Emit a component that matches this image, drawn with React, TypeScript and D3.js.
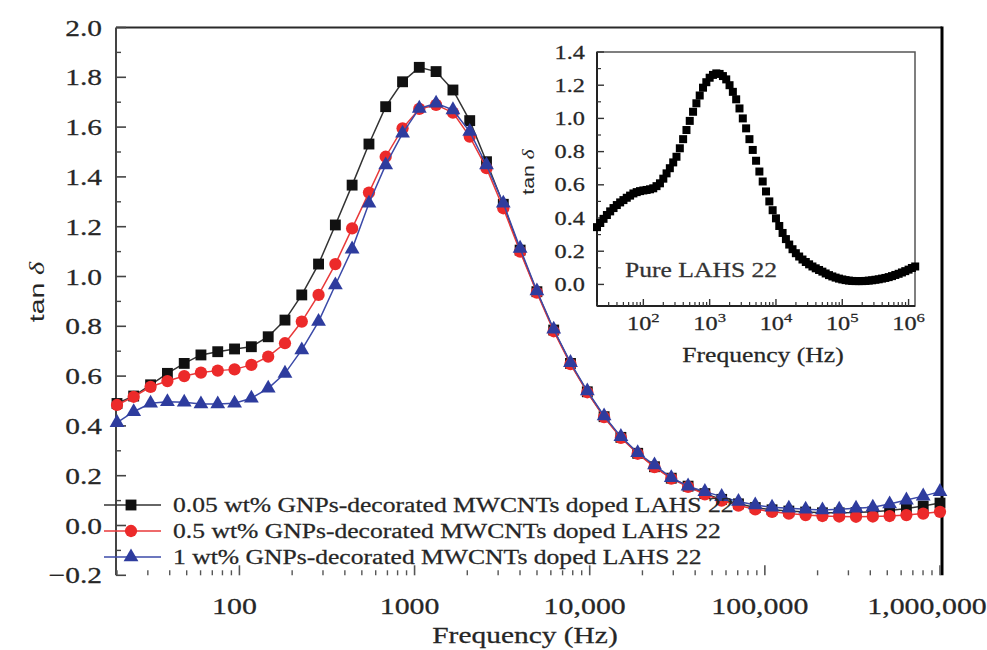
import React from 'react';
import * as d3 from 'd3';

// ---------- main chart data ----------
const freq = [20, 24.9, 31.1, 38.8, 48.4, 60.3, 75.2, 93.8, 117, 146, 182, 227, 283, 353, 440, 549, 684, 854, 1064, 1327, 1656, 2065, 2575, 3211, 4005, 4994, 6228, 7766, 9688, 12081, 15066, 18789, 23432, 29221, 36441, 45445, 56673, 70676, 88138, 109913, 137071, 170937, 213171, 265840, 331523, 413434, 515582, 642968, 801823, 1000000];

const tan005 = [0.49, 0.52, 0.565, 0.611, 0.651, 0.685, 0.698, 0.709, 0.718, 0.758, 0.825, 0.926, 1.05, 1.207, 1.367, 1.532, 1.682, 1.782, 1.84, 1.823, 1.749, 1.626, 1.461, 1.29, 1.106, 0.939, 0.785, 0.651, 0.537, 0.437, 0.354, 0.29, 0.236, 0.19, 0.158, 0.128, 0.105, 0.087, 0.072, 0.063, 0.058, 0.054, 0.051, 0.051, 0.052, 0.055, 0.06, 0.068, 0.078, 0.09];

const tan05 = [0.484, 0.517, 0.557, 0.58, 0.6, 0.614, 0.622, 0.627, 0.645, 0.678, 0.732, 0.819, 0.926, 1.05, 1.193, 1.337, 1.481, 1.595, 1.673, 1.689, 1.658, 1.562, 1.435, 1.274, 1.1, 0.935, 0.78, 0.648, 0.535, 0.435, 0.352, 0.288, 0.234, 0.188, 0.155, 0.125, 0.1, 0.08, 0.065, 0.055, 0.048, 0.042, 0.038, 0.036, 0.035, 0.036, 0.038, 0.042, 0.048, 0.055];

const tan1 = [0.413, 0.457, 0.491, 0.497, 0.495, 0.488, 0.488, 0.491, 0.511, 0.551, 0.611, 0.705, 0.819, 0.966, 1.11, 1.294, 1.448, 1.575, 1.675, 1.696, 1.669, 1.582, 1.448, 1.294, 1.113, 0.942, 0.788, 0.654, 0.54, 0.44, 0.357, 0.292, 0.243, 0.192, 0.158, 0.136, 0.116, 0.096, 0.082, 0.073, 0.069, 0.065, 0.062, 0.065, 0.069, 0.073, 0.086, 0.102, 0.118, 0.136];

const seriesNames = [
  '0.05 wt% GNPs-decorated MWCNTs doped LAHS 22',
  '0.5 wt% GNPs-decorated MWCNTs doped LAHS 22',
  '1 wt% GNPs-decorated MWCNTs doped LAHS 22',
];
const seriesColors = ['#111111', '#ec2a2a', '#2e3c9e'];
const lineColors = ['#333333', '#e8393a', '#3b4aa8'];
const seriesShapes = ['square', 'circle', 'triangle'];

const yTickValues = [-0.2, 0, 0.2, 0.4, 0.6, 0.8, 1.0, 1.2, 1.4, 1.6, 1.8, 2.0];
const yTickLabels = ['\u22120.2', '0.0', '0.2', '0.4', '0.6', '0.8', '1.0', '1.2', '1.4', '1.6', '1.8', '2.0'];
const xTickValues = [100, 1000, 10000, 100000, 1000000];
const xTickLabels = ['100', '1000', '10,000', '100,000', '1,000,000'];

// ---------- inset data (pure LAHS 22) ----------
const insetFreq = [20, 22.4, 25.1, 28.2, 31.6, 35.5, 39.8, 44.7, 50.1, 56.2, 63.1, 70.8, 79.4, 89.1,
  100, 112, 126, 141, 158, 178, 200, 224, 251, 282, 316, 355, 398, 447, 501, 562, 631, 708, 794, 891,
  1000, 1122, 1259, 1413, 1585, 1778, 1995, 2239, 2512, 2818, 3162, 3548, 3981, 4467, 5012, 5623, 6310, 7079, 7943, 8913,
  10000, 11220, 12590, 14130, 15850, 17780, 19950, 22390, 25120, 28180, 31620, 35480, 39810, 44670, 50120, 56230, 63100, 70790, 79430, 89130,
  100000, 112200, 125900, 141300, 158500, 177800, 199500, 223900, 251200, 281800, 316200, 354800, 398100, 446700, 501200, 562300, 631000, 707900, 794300, 891300,
  1000000, 1122000, 1259000];

const insetTan = [0.345, 0.37, 0.395, 0.418, 0.44, 0.46, 0.478, 0.494, 0.508, 0.522, 0.535, 0.548, 0.556, 0.562,
  0.566, 0.569, 0.573, 0.579, 0.592, 0.609, 0.637, 0.669, 0.7, 0.735, 0.769, 0.82, 0.875, 0.93, 0.985, 1.04, 1.091, 1.138, 1.185, 1.218,
  1.245, 1.262, 1.271, 1.268, 1.255, 1.235, 1.2, 1.16, 1.115, 1.06, 1.0, 0.94, 0.875, 0.81, 0.745, 0.68, 0.62, 0.56, 0.5, 0.447,
  0.398, 0.352, 0.31, 0.273, 0.24, 0.212, 0.188, 0.168, 0.15, 0.135, 0.121, 0.108, 0.097, 0.087, 0.077, 0.066, 0.056, 0.048, 0.041, 0.035,
  0.03, 0.026, 0.023, 0.021, 0.02, 0.02, 0.02, 0.021, 0.023, 0.025, 0.028, 0.031, 0.035, 0.039, 0.044, 0.05, 0.057, 0.064, 0.072, 0.08,
  0.089, 0.099, 0.108];

const insetYTickValues = [0, 0.2, 0.4, 0.6, 0.8, 1.0, 1.2, 1.4];
const insetYTickLabels = ['0.0', '0.2', '0.4', '0.6', '0.8', '1.0', '1.2', '1.4'];
const insetXTickValues = [100, 1000, 10000, 100000, 1000000];
const insetXTickExps = ['2', '3', '4', '5', '6'];

const SERIF = '"Liberation Serif", "DejaVu Serif", serif';
const SANS = '"Liberation Sans", Arial, sans-serif';
const TXT = '#262626';

function minorLogTicks(lo: number, hi: number) {
  const out: number[] = [];
  for (let k = 0; k <= 7; k++) {
    const dec = Math.pow(10, k);
    for (let m = 2; m <= 9; m++) {
      const v = m * dec;
      if (v >= lo && v <= hi) out.push(v);
    }
  }
  return out;
}

function SText(props: any) {
  const { x, y, anchor = 'start', size, sx = 1.28, family = SERIF, fill = TXT, children } = props;
  return (
    <text
      transform={`translate(${x},${y}) scale(${sx},1)`}
      textAnchor={anchor}
      fontSize={size}
      fontFamily={family}
      fill={fill}
      stroke={fill}
      strokeWidth={0.25}
    >
      {children}
    </text>
  );
}

function markerPath(shape: string) {
  if (shape === 'square') return d3.symbol().type(d3.symbolSquare).size(118)()!;
  if (shape === 'circle') return d3.symbol().type(d3.symbolCircle).size(118)()!;
  return d3.symbol().type(d3.symbolTriangle).size(95)()!;
}

export default function App() {
  const W = 987, H = 650;
  const x = d3.scaleLog().domain([20, 1e6]).range([117, 940]);
  const y = d3.scaleLinear().domain([-0.2, 2.0]).range([575.3, 27.5]);
  const left = 116, right = 942, top = y(2.0), bottom = y(-0.2);

  const data = [tan005, tan05, tan1];
  const line = d3.line<number>().x((_, i) => x(freq[i])).y((d) => y(d));

  const yMinor = d3.range(-0.1, 2.0, 0.2);
  const xMinor = minorLogTicks(20, 1e6);

  // inset scales
  const xi = d3.scaleLog().domain([20, 1.25e6]).range([597, 915]);
  const yi = d3.scaleLinear().domain([-0.13, 1.4]).range([306, 52]);
  const iL = 597, iR = 915, iT = 52, iB = 306;
  const iyMinor = d3.range(0.1, 1.4, 0.2);
  const ixMinor = minorLogTicks(20, 1.25e6);

  const legendRows = [505, 531, 557];

  return (
    <svg width={W} height={H} style={{ position: 'absolute', left: 0, top: 0, background: '#fff' }}>
      <rect x={0} y={0} width={W} height={H} fill="#fff" />

      {/* frame */}
      <line x1={left} x2={right} y1={top} y2={top} stroke="#2a2a2a" strokeWidth={2} />
      <line x1={left} x2={left} y1={top} y2={bottom} stroke="#444" strokeWidth={2} />
      <line x1={right} x2={right} y1={top - 1} y2={bottom} stroke="#000" strokeWidth={3} />

      {/* y ticks */}
      {yTickValues.map((v) => (
        <line key={'yt' + v} x1={left} x2={left + 10} y1={y(v)} y2={y(v)} stroke="#444" strokeWidth={1.6} />
      ))}
      {yMinor.map((v) => (
        <line key={'ym' + v} x1={left} x2={left + 5} y1={y(v)} y2={y(v)} stroke="#444" strokeWidth={1.4} />
      ))}
      {yTickValues.map((v, i) => (
        <SText key={'yl' + v} x={102} y={y(v) + 8} anchor="end" size={23}>
          {yTickLabels[i]}
        </SText>
      ))}

      {/* x ticks */}
      {xTickValues.map((v) => (
        <line key={'xt' + v} x1={x(v)} x2={x(v)} y1={bottom} y2={bottom - 10} stroke="#555" strokeWidth={1.6} />
      ))}
      {xMinor.filter((v) => xTickValues.indexOf(v) < 0).map((v) => (
        <line key={'xm' + v} x1={x(v)} x2={x(v)} y1={bottom} y2={bottom - 5} stroke="#555" strokeWidth={1.4} />
      ))}
      {xTickValues.map((v, i) => (
        <SText key={'xl' + v} x={Math.min(x(v) - 5, 927)} y={614} anchor="middle" size={23} sx={1.3}>
          {xTickLabels[i]}
        </SText>
      ))}

      {/* axis titles */}
      <SText x={525} y={643} anchor="middle" size={23}>Frequency (Hz)</SText>
      <text
        transform={`translate(44,292) rotate(-90) scale(1.35,1)`}
        textAnchor="middle"
        fontSize={21}
        fontFamily={SANS}
        fill={TXT}
      >
        tan <tspan fontStyle="italic" fontFamily={SERIF}>δ</tspan>
      </text>

      {/* series */}
      {data.map((s, si) => (
        <g key={'s' + si}>
          <path d={line(s)!} fill="none" stroke={lineColors[si]} strokeWidth={1.5} />
          {s.map((v, i) => (
            <path
              key={i}
              d={markerPath(seriesShapes[si])}
              transform={`translate(${x(freq[i])},${y(v)})`}
              fill={seriesColors[si]}
            />
          ))}
        </g>
      ))}

      {/* legend */}
      {seriesNames.map((name, si) => (
        <g key={'lg' + si}>
          <line x1={104} x2={161} y1={legendRows[si]} y2={legendRows[si]} stroke={lineColors[si]} strokeWidth={1.5} />
          <path d={markerPath(seriesShapes[si])} transform={`translate(131,${legendRows[si]})`} fill={seriesColors[si]} />
          <SText x={173} y={legendRows[si] + 7} size={20}>{name}</SText>
        </g>
      ))}

      {/* inset */}
      <rect x={iL} y={iT} width={iR - iL} height={iB - iT} fill="none" stroke="#555" strokeWidth={1.5} />
      <line x1={iL} x2={iL} y1={iT} y2={iB} stroke="#222" strokeWidth={2} />
      <line x1={iL} x2={iR} y1={iB} y2={iB} stroke="#222" strokeWidth={2} />
      {insetYTickValues.map((v) => (
        <line key={'iyt' + v} x1={iL} x2={iL + 7} y1={yi(v)} y2={yi(v)} stroke="#333" strokeWidth={1.4} />
      ))}
      {iyMinor.map((v) => (
        <line key={'iym' + v} x1={iL} x2={iL + 4} y1={yi(v)} y2={yi(v)} stroke="#333" strokeWidth={1.2} />
      ))}
      {insetYTickValues.map((v, i) => (
        <SText key={'iyl' + v} x={585} y={yi(v) + 6.5} anchor="end" size={19}>
          {insetYTickLabels[i]}
        </SText>
      ))}
      {insetXTickValues.map((v) => (
        <line key={'ixt' + v} x1={xi(v)} x2={xi(v)} y1={iB} y2={iB - 7} stroke="#333" strokeWidth={1.4} />
      ))}
      {ixMinor.filter((v) => insetXTickValues.indexOf(v) < 0).map((v) => (
        <line key={'ixm' + v} x1={xi(v)} x2={xi(v)} y1={iB} y2={iB - 4} stroke="#333" strokeWidth={1.2} />
      ))}
      {insetXTickValues.map((v, i) => (
        <SText key={'ixl' + v} x={xi(v)} y={330} anchor="middle" size={19}>
          10<tspan fontSize={13} dy={-8}>{insetXTickExps[i]}</tspan>
        </SText>
      ))}
      <SText x={763} y={362} anchor="middle" size={20}>Frequency (Hz)</SText>
      <text
        transform={`translate(534,172) rotate(-90) scale(1.25,1)`}
        textAnchor="middle"
        fontSize={17}
        fontFamily={SANS}
        fill={TXT}
      >
        tan <tspan fontStyle="italic" fontFamily={SERIF}>δ</tspan>
      </text>
      <SText x={625} y={277} size={20} fill="#333">Pure LAHS 22</SText>
      {insetTan.map((v, i) => (
        <rect key={'ip' + i} x={xi(insetFreq[i]) - 4} y={yi(v) - 4} width={8} height={8} fill="#000" />
      ))}
    </svg>
  );
}
